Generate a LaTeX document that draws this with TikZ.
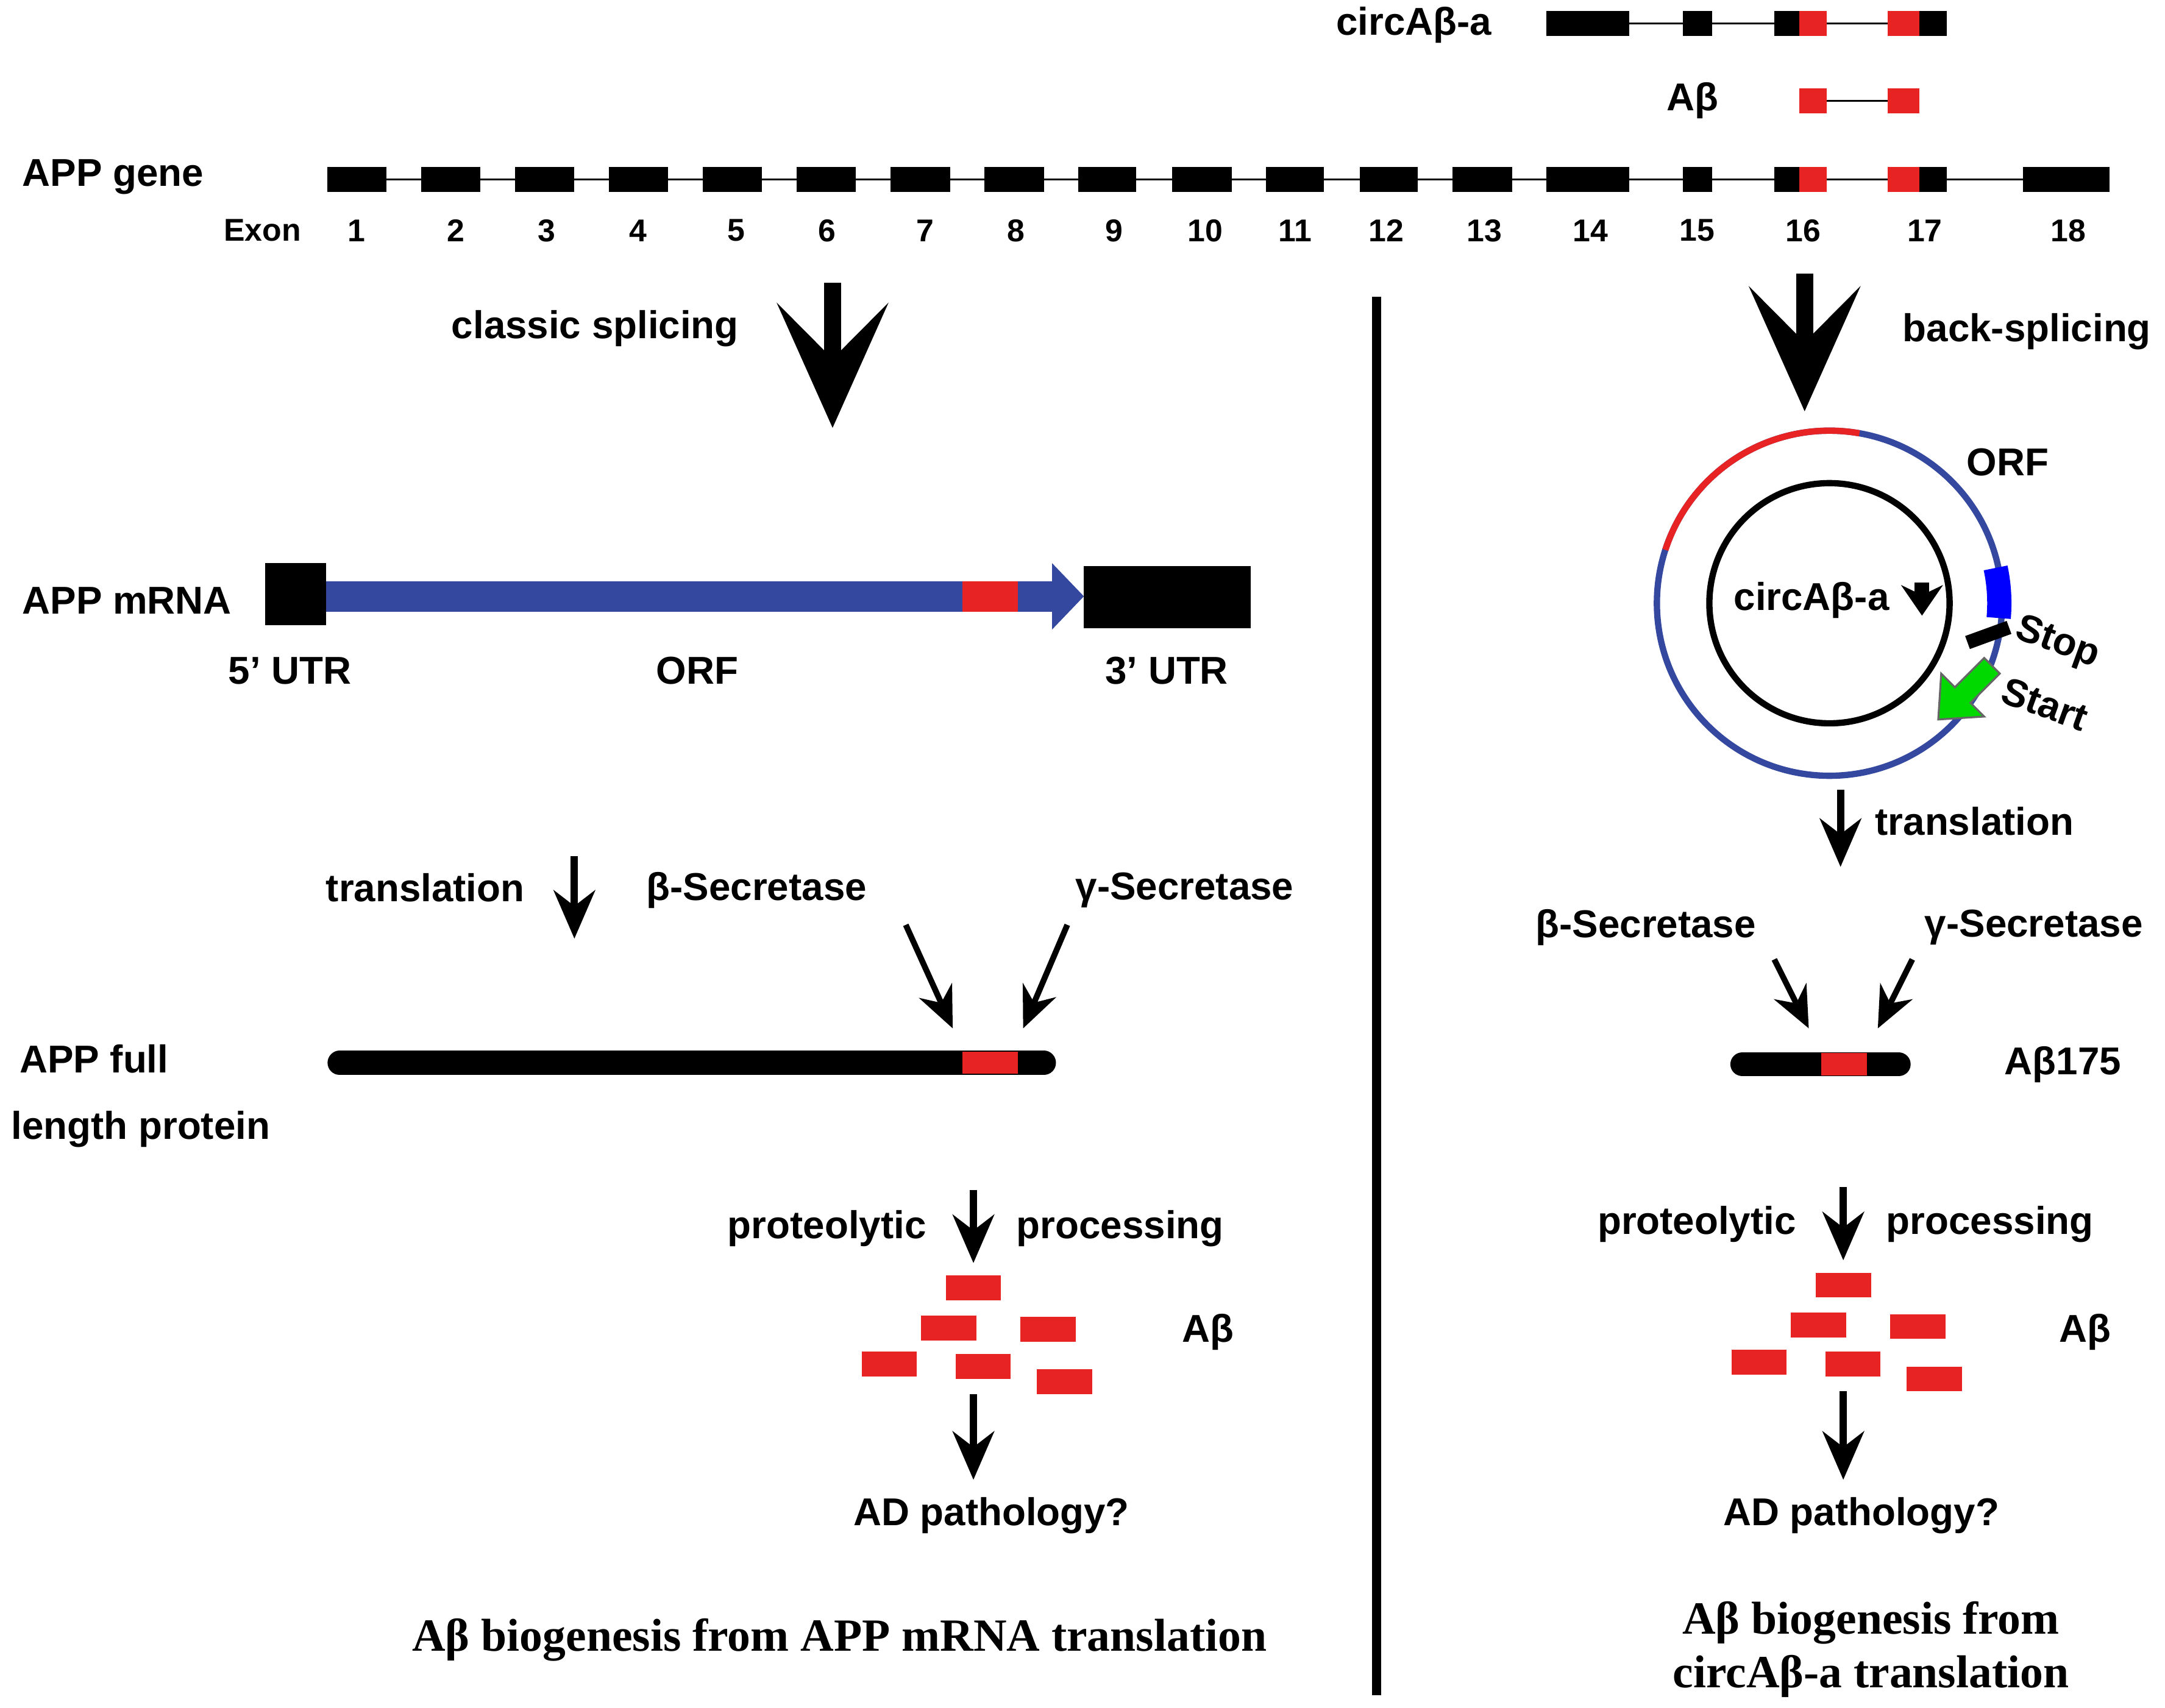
\documentclass[tikz,border=0pt]{standalone}
\usepackage{fontspec}
\setmainfont{Liberation Sans}
\newfontfamily\serifb{Liberation Serif}
\usetikzlibrary{arrows.meta,positioning}
\definecolor{abred}{RGB}{232,35,35}
\definecolor{orfblue}{RGB}{52,72,160}
\tikzset{
  lbl/.style={font=\bfseries\fontsize{8}{9}\selectfont, inner sep=1pt},
  exn/.style={font=\bfseries\fontsize{6.5}{8}\selectfont, inner sep=1pt},
  big/.style={-{Stealth[length=9mm,width=8mm,inset=4mm]}, line width=3.5pt},
  small/.style={-{Stealth[length=3.5mm,width=3mm]}, line width=1.5pt},
  tip/.style={-{Stealth[length=3mm,width=2.6mm]}, line width=1.2pt},
  prot/.style={line width=5pt,line cap=round},
}
\begin{document}
\begin{tikzpicture}[x=0.1mm,y=-0.1mm]
\useasboundingbox (0,0) rectangle (1568,1237);
% gene
\draw (237,130) -- (1528,130);
\foreach \a/\b in {237/280,305/348,373/416,441/484,509/552,577/620,645/688,713/756,781/823,849/892,917/959,985/1027,1052/1095,1120/1180,1219/1240,1285/1303,1390/1410,1465/1528}
  \fill (\a,121) rectangle (\b,139);
\fill[abred] (1303,121) rectangle (1323,139);
\fill[abred] (1367,121) rectangle (1390,139);
\node[lbl,anchor=west] (gene) at (12,128) {APP gene};
\node[exn] (exon) at (190,167) {Exon};
\foreach \x/\n in {258/1,330/2,396/3,462/4,533/5,599/6,670/7,736/8,807/9,873/10,938/11,1004/12,1075/13,1152/14,1229/15,1306/16,1394/17,1498/18}
  \node[exn] (e\n) at (\x,167) {\n};
% circ row
\draw (1120,17) -- (1410,17);
\foreach \a/\b in {1120/1180,1219/1240,1285/1303,1390/1410}
  \fill (\a,8) rectangle (\b,26);
\fill[abred] (1303,8) rectangle (1323,26);
\fill[abred] (1367,8) rectangle (1390,26);
\node[lbl] (circlbl) at (1024,18) {circAβ-a};
\draw (1313,73) -- (1378,73);
\fill[abred] (1303,64) rectangle (1323,82);
\fill[abred] (1367,64) rectangle (1390,82);
\node[lbl] (ablbl) at (1226,73) {Aβ};
% divider
\draw[line width=2pt] (997,215) -- (997,1228);
% big arrows
\coordinate (la0) at (603,205); \coordinate (la1) at (603,310);
\draw[big] (la0) -- (la1);
\node[lbl] (classic) at (431,238) {classic splicing};
\coordinate (ra0) at (1307,198); \coordinate (ra1) at (1307,298);
\draw[big] (ra0) -- (ra1);
\node[lbl,anchor=east] (back) at (1562,240) {back-splicing};
% mRNA
\fill (192,408) rectangle (236,453);
\fill[orfblue] (236,421) rectangle (697,443);
\fill[abred] (697,421) rectangle (737,443);
\fill[orfblue] (737,421) rectangle (762,443);
\fill[orfblue] (762,408) -- (785,432) -- (762,456) -- cycle;
\fill (785,410) rectangle (906,455);
\node[lbl,anchor=west] (mrna) at (12,435) {APP mRNA};
\node[lbl] (utr5) at (210,486) {5’ UTR};
\node[lbl] (orf) at (505,486) {ORF};
\node[lbl] (utr3) at (845,486) {3’ UTR};
% left translation
\node[lbl] (transl) at (308,643) {translation};
\coordinate (lt0) at (416,620); \coordinate (lt1) at (416,680);
\draw[small] (lt0) -- (lt1);
\node[lbl] (bsecl) at (548,645) {β-Secretase};
\node[lbl] (gsecl) at (858,645) {γ-Secretase};
\coordinate (bl0) at (656,670); \coordinate (bl1) at (690,745);
\coordinate (gl0) at (773,670); \coordinate (gl1) at (741,745);
\draw[tip] (bl0) -- (bl1);
\draw[tip] (gl0) -- (gl1);
\draw[prot] (246,770) -- (756,770);
\fill[abred] (697,762) rectangle (737,778);
\node[lbl,anchor=west] (full1) at (10,767) {APP full};
\node[lbl,anchor=west] (full2) at (4,818) {length protein};
% left processing
\node[lbl,anchor=east] (prol) at (675,890) {proteolytic};
\node[lbl,anchor=west] (procl) at (732,890) {processing};
\coordinate (lp0) at (705,862); \coordinate (lp1) at (705,915);
\draw[small] (lp0) -- (lp1);
\foreach \x/\y in {705/933,687/962,759/963,644/988,712/990,771/1001}
  \fill[abred] (\x-20,\y-9) rectangle (\x+20,\y+9);
\node[lbl] (abl) at (875,965) {Aβ};
\coordinate (la2) at (705,1010); \coordinate (la3) at (705,1072);
\draw[small] (la2) -- (la3);
\node[lbl] (adl) at (718,1098) {AD pathology?};
\node[font=\serifb\bfseries\fontsize{9.5}{11}\selectfont] (capl) at (608,1188) {Aβ biogenesis from APP mRNA translation};
% circle
\draw[orfblue,line width=1.3pt] (1325,437) circle (125);
\draw[abred,line width=1.3pt] (1325,437) ++(-162:125) arc (-162:-80:125);
\draw[line width=1.3pt] (1325,437) circle (87);
\draw[blue,line width=5pt] (1325,437) ++(-12:123) arc (-12:5:123);
\fill[rotate around={20:(1440,460)}] (1424,455) rectangle (1456,465);
\fill[green!85!black,draw=black!60,rotate around={-135:(1425,500)}]
  (1400,492) -- (1430,492) -- (1430,478) -- (1455,500) -- (1430,522) -- (1430,508) -- (1400,508) -- cycle;
\node[lbl] (circin) at (1312,435) {circAβ-a};
\coordinate (ci0) at (1392,422); \coordinate (ci1) at (1392,446);
\draw[-{Stealth[length=2.2mm,width=3mm]},line width=3pt] (ci0) -- (ci1);
\node[lbl] (orfr) at (1454,335) {ORF};
\node[lbl,rotate=-20] (stop) at (1490,466) {Stop};
\node[lbl,rotate=-20] (start) at (1481,510) {Start};
% right translation
\coordinate (rt0) at (1333,572); \coordinate (rt1) at (1333,628);
\draw[small] (rt0) -- (rt1);
\node[lbl] (transr) at (1430,595) {translation};
\node[lbl] (bsecr) at (1192,672) {β-Secretase};
\node[lbl] (gsecr) at (1473,672) {γ-Secretase};
\coordinate (br0) at (1285,695); \coordinate (br1) at (1310,745);
\coordinate (gr0) at (1385,695); \coordinate (gr1) at (1360,745);
\draw[tip] (br0) -- (br1);
\draw[tip] (gr0) -- (gr1);
\draw[prot] (1262,771) -- (1375,771);
\fill[abred] (1319,763) rectangle (1352,779);
\node[lbl] (ab175) at (1494,771) {Aβ175};
% right processing
\node[lbl,anchor=east] (pror) at (1305,887) {proteolytic};
\node[lbl,anchor=west] (procr) at (1362,887) {processing};
\coordinate (rp0) at (1335,860); \coordinate (rp1) at (1335,913);
\draw[small] (rp0) -- (rp1);
\foreach \x/\y in {1335/931,1317/960,1389/961,1274/987,1342/988,1401/999}
  \fill[abred] (\x-20,\y-9) rectangle (\x+20,\y+9);
\node[lbl] (abr) at (1510,965) {Aβ};
\coordinate (ra2) at (1335,1008); \coordinate (ra3) at (1335,1072);
\draw[small] (ra2) -- (ra3);
\node[lbl] (adr) at (1348,1098) {AD pathology?};
\node[font=\serifb\bfseries\fontsize{9.5}{11}\selectfont,align=center] (capr) at (1355,1195) {Aβ biogenesis from\\circAβ-a translation};
\end{tikzpicture}
\end{document}
